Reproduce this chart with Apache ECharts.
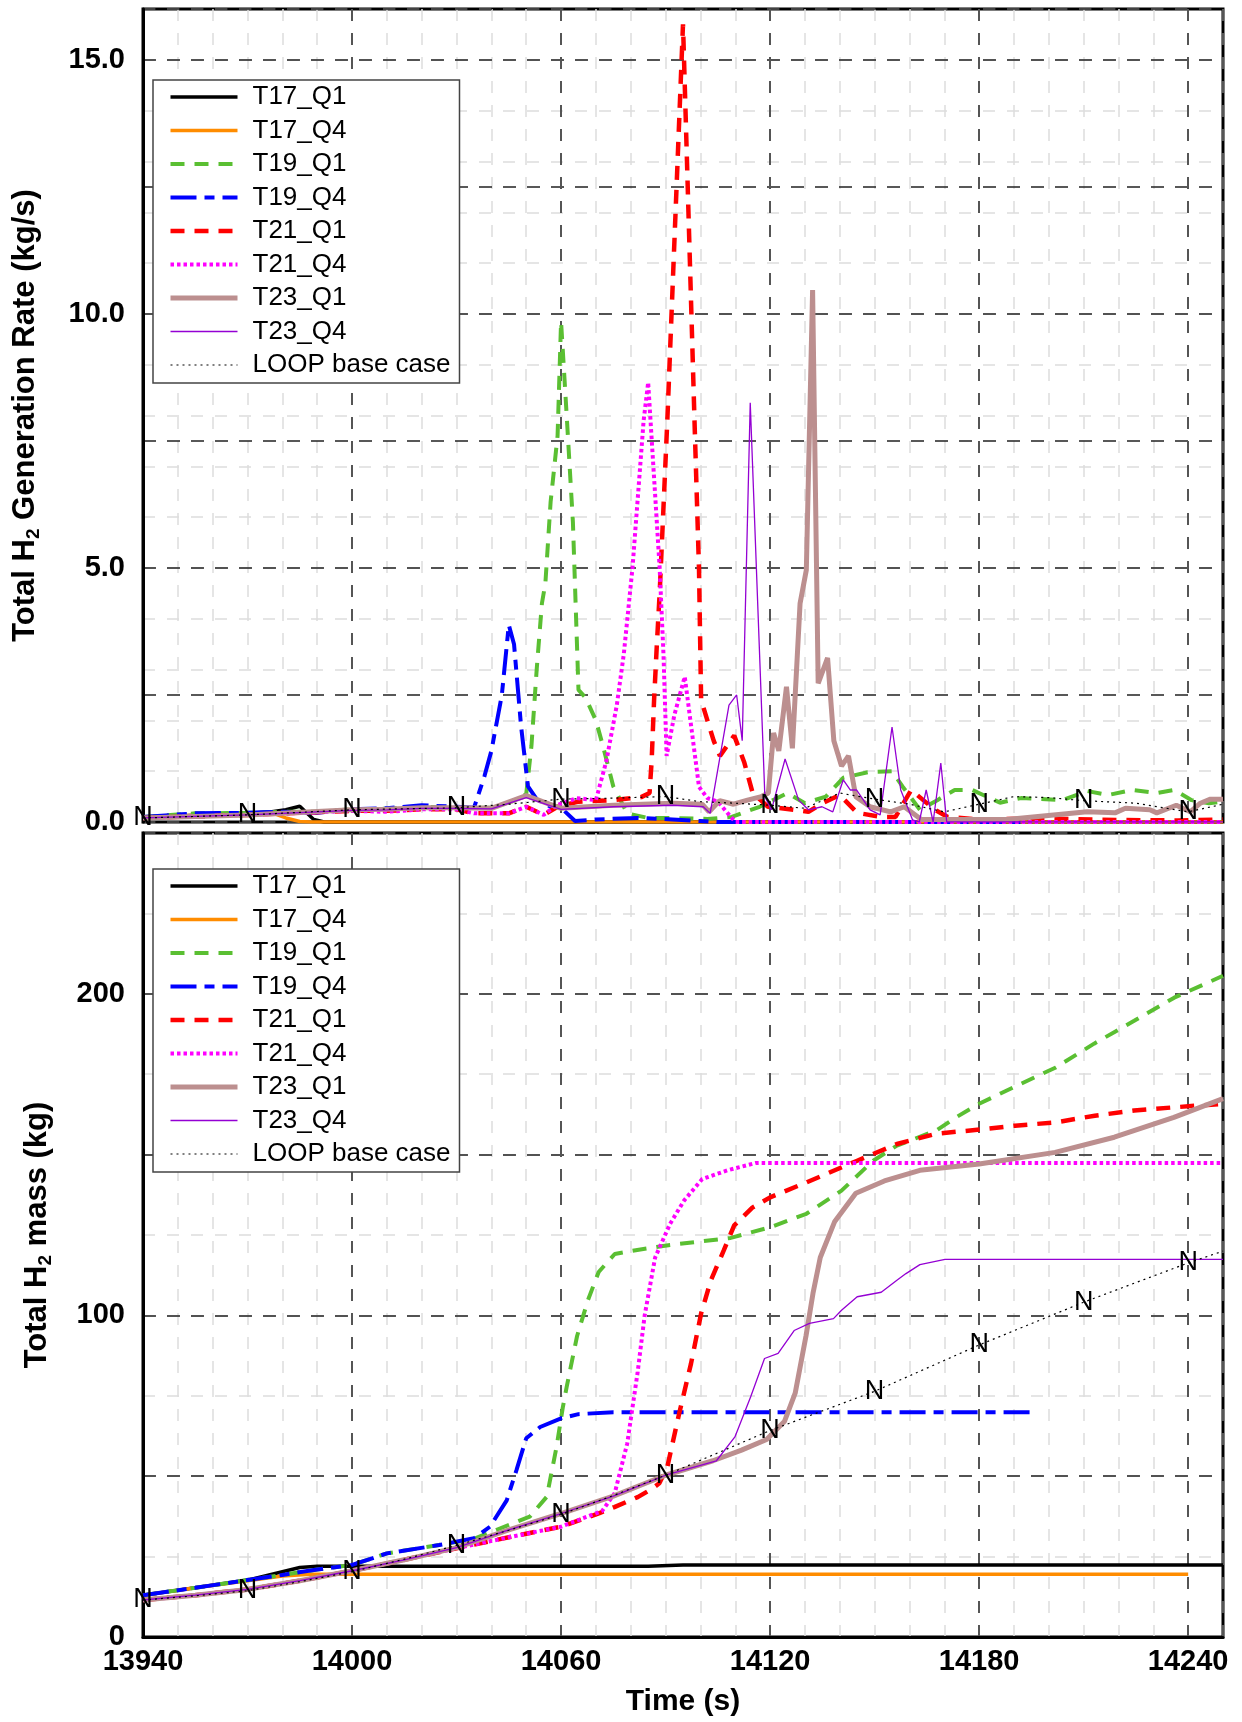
<!DOCTYPE html>
<html>
<head>
<meta charset="utf-8">
<title>Total H2 generation rate and mass</title>
<script src="https://cdn.jsdelivr.net/npm/echarts@6.0.0/dist/echarts.min.js"></script>
<style>
  html, body { margin: 0; padding: 0; background: #fff; }
  #chart { width: 1242px; height: 1722px; }
</style>
</head>
<body>
<div id="chart"></div>
<script>
// ---- data: [time (s), value] ----
const seriesNames = ['T17_Q1', 'T17_Q4', 'T19_Q1', 'T19_Q4', 'T21_Q1', 'T21_Q4', 'T23_Q1', 'T23_Q4', 'LOOP base case']
const loopMarkTimes = [13940, 13970, 14000, 14030, 14060, 14090, 14120, 14150, 14180, 14210, 14240]

// total H2 generation rate (kg/s)
const rateT17Q1 = [[13940, 0.10], [13950, 0.12], [13960, 0.15], [13970, 0.17], [13977, 0.2], [13981, 0.24], [13985, 0.31], [13989, 0.05], [13992, 0], [14250, 0]]
const rateT17Q4 = [[13940, 0.10], [13950, 0.12], [13960, 0.15], [13970, 0.17], [13977, 0.18], [13981, 0.08], [13985, 0.01], [13988, 0], [14250, 0]]
const rateT19Q1 = [[13940, 0.1], [13955, 0.17], [13970, 0.18], [13980, 0.2], [13990, 0.2], [14000, 0.25], [14010, 0.26], [14020, 0.3], [14030, 0.28], [14040, 0.28], [14047, 0.43], [14050, 0.55], [14051.5, 1.5], [14053, 3.0], [14054.5, 4.3], [14055.5, 4.7], [14057, 6.3], [14059, 7.6], [14060, 9.85], [14061.7, 7.9], [14063.4, 5.9], [14065, 2.6], [14067, 2.45], [14070, 2.0], [14072, 1.5], [14075, 0.7], [14079, 0.17], [14085, 0.08], [14092, 0.08], [14102, 0.06], [14109, 0.1], [14117, 0.3], [14125, 0.57], [14130, 0.37], [14136, 0.5], [14141, 0.87], [14148, 0.98], [14155, 1.0], [14158, 0.7], [14163, 0.24], [14168, 0.43], [14173, 0.63], [14178, 0.63], [14186, 0.38], [14192, 0.47], [14204, 0.43], [14211, 0.61], [14217, 0.53], [14224, 0.63], [14231, 0.57], [14236, 0.63], [14241, 0.43], [14246, 0.37], [14250, 0.4]]
const rateT19Q4 = [[13940, 0.1], [13955, 0.17], [13970, 0.18], [13980, 0.2], [13990, 0.18], [14000, 0.25], [14010, 0.27], [14020, 0.33], [14030, 0.3], [14035, 0.28], [14038, 0.9], [14040, 1.4], [14043, 2.5], [14045, 3.88], [14046.5, 3.5], [14048.5, 1.9], [14050.5, 0.7], [14053, 0.45], [14057, 0.3], [14060, 0.28], [14064, 0.02], [14070, 0.05], [14082, 0.08], [14092, 0.05], [14100, 0.02], [14105, 0], [14195, 0]]
const rateT21Q1 = [[13940, 0.08], [13970, 0.14], [14000, 0.22], [14010, 0.22], [14020, 0.25], [14030, 0.25], [14035, 0.17], [14045, 0.17], [14050, 0.3], [14055, 0.14], [14059, 0.3], [14065, 0.4], [14075, 0.43], [14083, 0.49], [14085.4, 0.57], [14086, 1.2], [14086.7, 2.4], [14087.5, 3.5], [14088.3, 4.5], [14090.5, 7.9], [14095, 15.7], [14098.3, 7.9], [14099.6, 4.96], [14100.2, 2.4], [14103.8, 1.6], [14105.6, 1.3], [14109.7, 1.7], [14112.6, 1.17], [14115, 0.57], [14119.4, 0.3], [14127, 0.24], [14131, 0.2], [14135, 0.37], [14140, 0.53], [14145, 0.18], [14152, 0.1], [14156, 0.1], [14160.5, 0.63], [14167.3, 0.24], [14171, 0.1], [14180, 0.05], [14198, 0.07], [14220, 0.04], [14237, 0.03], [14250, 0.05]]
const rateT21Q4 = [[13940, 0.08], [13970, 0.14], [14000, 0.22], [14010, 0.2], [14020, 0.25], [14030, 0.25], [14035, 0.17], [14045, 0.17], [14050, 0.3], [14055, 0.14], [14058.7, 0.33], [14064.5, 0.47], [14070, 0.43], [14073, 1.2], [14076, 2.3], [14078, 3.3], [14080.5, 5.0], [14083.7, 7.9], [14085, 8.65], [14088.3, 5.0], [14089.4, 3.3], [14090.3, 1.3], [14092.5, 2.1], [14095.5, 2.86], [14097.5, 1.8], [14099.6, 0.69], [14102, 0.47], [14105, 0.4], [14110, 0], [14250, 0]]
const rateT23Q1 = [[13940, 0.08], [13970, 0.14], [14000, 0.24], [14010, 0.25], [14020, 0.28], [14030, 0.28], [14040, 0.27], [14050, 0.52], [14060, 0.27], [14075, 0.33], [14092, 0.37], [14100.5, 0.35], [14102.5, 0.2], [14105.5, 0.42], [14109.5, 0.35], [14113.5, 0.43], [14117.5, 0.5], [14119.5, 0.57], [14121, 1.75], [14122.5, 1.4], [14124.7, 2.66], [14126.4, 1.45], [14128.6, 4.3], [14130.4, 4.96], [14132.2, 10.47], [14133.8, 2.73], [14136.5, 3.23], [14138.3, 1.6], [14140.5, 1.1], [14142.5, 1.3], [14144.6, 0.5], [14148.7, 0.3], [14154.6, 0.2], [14158.5, 0.3], [14163.4, 0.05], [14188, 0.05], [14211, 0.2], [14219, 0.18], [14222, 0.27], [14229, 0.24], [14231, 0.18], [14236.6, 0.33], [14240.6, 0.2], [14243.5, 0.37], [14246.4, 0.45], [14250, 0.45]]
const rateT23Q4 = [[13940, 0.08], [13970, 0.14], [14000, 0.23], [14010, 0.24], [14020, 0.27], [14030, 0.27], [14040, 0.26], [14050, 0.48], [14060, 0.25], [14075, 0.3], [14092, 0.33], [14100.8, 0.3], [14102.8, 0.17], [14108.2, 2.3], [14110.4, 2.5], [14112, 1.6], [14114.3, 8.25], [14118.5, 0.5], [14120.4, 0.24], [14124.3, 1.24], [14128.2, 0.43], [14131, 0.24], [14134.9, 0.3], [14138, 0.2], [14141, 0.83], [14143, 0.63], [14144.8, 0.63], [14148.7, 0.24], [14151.6, 0.14], [14155, 1.87], [14157.5, 0.63], [14160.9, 0.04], [14162.8, 0], [14164.8, 0.63], [14166.8, 0], [14169, 1.16], [14170.7, 0], [14250, 0]]
const rateLoop = [[13940, 0.08], [13955, 0.11], [13970, 0.14], [13985, 0.19], [14000, 0.24], [14015, 0.26], [14030, 0.28], [14045, 0.35], [14060, 0.45], [14075, 0.47], [14090, 0.5], [14100, 0.4], [14110, 0.37], [14120, 0.33], [14130, 0.27], [14140, 0.57], [14150, 0.45], [14160, 0.35], [14170, 0.2], [14180, 0.35], [14190, 0.5], [14200, 0.48], [14210, 0.42], [14225, 0.37], [14240, 0.2], [14250, 0.35]]

// total H2 mass (kg)
const massT17Q1 = [[13940, 13.0], [13955, 15.3], [13970, 17.7], [13980, 20.3], [13985, 21.6], [13990, 22.0], [14085, 22.0], [14095, 22.4], [14250, 22.4]]
const massT17Q4 = [[13940, 13.0], [13955, 15.3], [13970, 17.5], [13980, 19.0], [13988, 19.5], [14240, 19.5]]
const massT19Q1 = [[13940, 13.0], [13955, 15.3], [13970, 17.7], [13980, 19.3], [13990, 21.0], [14000, 22.4], [14010, 26.0], [14025, 28.6], [14035, 30.5], [14040, 32.7], [14051, 37.4], [14055.9, 43.6], [14058.7, 59.1], [14060.5, 71.4], [14061.6, 77.7], [14064.6, 93.6], [14067.7, 104.7], [14070.8, 113.5], [14075.4, 119.1], [14081, 120.2], [14091.3, 121.9], [14108.7, 124.1], [14120, 127.4], [14130.4, 131.6], [14140.5, 138.8], [14149.6, 148.1], [14156.4, 152.8], [14167.7, 157.5], [14173.4, 161.6], [14180, 165.8], [14190, 171], [14202, 177.1], [14213, 184.5], [14224.5, 191.6], [14236, 198.8], [14250, 205.6]]
const massT19Q4 = [[13940, 13.0], [13955, 15.3], [13970, 17.7], [13980, 19.3], [13990, 21.0], [14000, 22.4], [14010, 26.0], [14025, 28.6], [14035, 30.7], [14039.6, 34.3], [14044.4, 42.5], [14047.2, 51.9], [14050, 61.8], [14054, 65.3], [14060, 68.0], [14065, 69.3], [14075, 69.9], [14195, 69.9]]
const massT21Q1 = [[13940, 11.5], [13955, 13], [13970, 14.8], [13985, 17.5], [14000, 20.6], [14015, 24], [14030, 27.6], [14045, 31], [14060, 34.3], [14071, 38.5], [14075.3, 40.4], [14082, 43.5], [14086, 46], [14088.2, 47.8], [14090.5, 52.9], [14093.9, 69.5], [14097.3, 85], [14100.2, 100.6], [14103, 110.9], [14106.7, 120.2], [14109.7, 128], [14114.9, 133.5], [14120, 136.7], [14130.3, 141.3], [14145, 148.1], [14156.4, 153.3], [14167.7, 156.5], [14180.3, 157.8], [14190.3, 159], [14201.8, 160], [14213.2, 162.1], [14224.5, 163.7], [14235.9, 164.7], [14250, 165.8]]
const massT21Q4 = [[13940, 11.5], [13955, 13], [13970, 14.8], [13985, 17.5], [14000, 20.6], [14015, 24], [14030, 27.6], [14045, 31], [14060, 34.3], [14071.8, 39.2], [14075.4, 44.7], [14079, 60.2], [14082, 82.5], [14084, 100], [14087, 118], [14091.3, 128.5], [14095.3, 135.7], [14100.5, 142.4], [14107.7, 145.1], [14115.9, 147.4], [14250, 147.4]]
const massT23Q1 = [[13940, 11.5], [13955, 13], [13970, 14.8], [13985, 17.5], [14000, 20.6], [14015, 24], [14030, 27.8], [14045, 33.3], [14060, 38.4], [14075, 43.8], [14090, 50.3], [14103.6, 54.8], [14111.8, 58.1], [14119, 61.4], [14124.1, 67], [14127.2, 75.8], [14130.3, 93.6], [14132.3, 106.8], [14134.4, 118], [14138.5, 129.1], [14144.6, 138], [14152.8, 141.8], [14163, 145.1], [14180, 147.1], [14201.8, 150.7], [14218.8, 155.4], [14235.9, 161.6], [14250, 167.4]]
const massT23Q4 = [[13940, 11.5], [13955, 13], [13970, 14.8], [13985, 17.5], [14000, 20.6], [14015, 24], [14030, 27.8], [14045, 33.3], [14060, 38.4], [14075, 43.8], [14090, 50.3], [14104.6, 54.8], [14109.9, 62.2], [14114.4, 74.6], [14118.4, 86.6], [14122.3, 88.2], [14126.9, 95.3], [14131.3, 97.5], [14138.2, 99], [14140.5, 101.6], [14145, 105.8], [14151.9, 107.2], [14156.4, 110.9], [14159, 113], [14163, 115.8], [14170.2, 117.4], [14250, 117.4]]
const massLoop = [[13940, 11.5], [13955, 12.8], [13970, 14.4], [13985, 17.2], [14000, 20.3], [14015, 24.2], [14030, 28.5], [14045, 33.2], [14060, 38.1], [14075, 44], [14090, 50.3], [14120, 64.2], [14150, 76.4], [14180, 90.8], [14210, 104.1], [14240, 116.3], [14250, 120]]

const rateData = [rateT17Q1, rateT17Q4, rateT19Q1, rateT19Q4, rateT21Q1, rateT21Q4, rateT23Q1, rateT23Q4, rateLoop]
const massData = [massT17Q1, massT17Q4, massT19Q1, massT19Q4, massT21Q1, massT21Q4, massT23Q1, massT23Q4, massLoop]

// ---- styles ----
const FONT = 'Liberation Sans, Arial, sans-serif'
const lineStyles = [
  { color: '#000000', width: 3.5, type: 'solid' },
  { color: '#FF8C00', width: 3.5, type: 'solid' },
  { color: '#5ABF32', width: 4, type: [14, 10] },
  { color: '#0000FF', width: 4, type: [26, 8, 10, 8] },
  { color: '#FF0000', width: 4.5, type: [14, 10] },
  { color: '#FF00FF', width: 4, type: [3.5, 3] },
  { color: '#BC8F8F', width: 5, type: 'solid' },
  { color: '#9400D3', width: 1.3, type: 'solid' },
  { color: '#000000', width: 1.2, type: [2, 4] },
]

const minorSplit = { show: true, lineStyle: { color: '#dddddd', width: 1.5, type: [12, 12] } }
const majorSplitV = { show: true, lineStyle: { color: '#555555', width: 2, type: [12, 12] } }
const majorSplitH = { show: true, lineStyle: { color: '#222222', width: 1.5, type: [13, 11] } }
const hidden = { axisLine: { show: false }, axisTick: { show: false }, axisLabel: { show: false } }
const boldLabel = { show: true, color: '#000', fontSize: 29, fontWeight: 'bold', fontFamily: FONT }

const xMin = 13940
const xMax = 14250

function makeLines(dataList, g) {
  return dataList.map((data, i) => ({
    type: 'line',
    name: seriesNames[i],
    data: data,
    xAxisIndex: g * 2 + 1,
    yAxisIndex: g * 2 + 1,
    symbol: 'none',
    showSymbol: false,
    lineStyle: Object.assign({ cap: 'butt' }, lineStyles[i]),
    itemStyle: { color: lineStyles[i].color },
    z: 2,
    animation: false,
    silent: true,
  }))
}

// "N" markers sitting on the LOOP base case curve
function makeMarks(loopData, g) {
  return {
    type: 'scatter',
    name: 'marks',
    data: loopData.filter(p => loopMarkTimes.includes(p[0])),
    xAxisIndex: g * 2 + 1,
    yAxisIndex: g * 2 + 1,
    symbol: 'circle',
    symbolSize: 1,
    itemStyle: { color: 'rgba(0,0,0,0)', opacity: 1 },
    label: {
      show: true, position: 'inside', formatter: 'N', color: '#000', opacity: 1,
      fontSize: 27, fontFamily: FONT, textBorderWidth: 0, textShadowBlur: 0,
    },
    z: 3,
    animation: false,
    silent: true,
  }
}

function makeLegend(top) {
  return {
    orient: 'vertical',
    left: 153,
    top: top,
    data: seriesNames,
    itemWidth: 67,
    itemHeight: 14,
    itemGap: 5.5,
    padding: [3, 9, 4, 15],
    backgroundColor: '#fff',
    borderColor: '#444',
    borderWidth: 1.5,
    borderRadius: 0,
    selectedMode: false,
    itemStyle: { opacity: 0, borderWidth: 0 },
    lineStyle: { width: 'inherit', type: 'inherit', color: 'inherit' },
    textStyle: { fontSize: 26, color: '#000', fontFamily: FONT, lineHeight: 28, padding: [0, 0, 0, 10] },
    z: 10,
  }
}

const nameRich = {
  a: { fontSize: 31, fontWeight: 'bold', color: '#000', fontFamily: FONT, lineHeight: 36 },
  s: { fontSize: 19, fontWeight: 'bold', color: '#000', fontFamily: FONT, lineHeight: 20, verticalAlign: 'bottom' },
}

function minorX(g) {
  return Object.assign({ gridIndex: g, type: 'value', position: 'bottom', min: xMin, max: xMax, interval: 10, splitLine: minorSplit, z: 0 }, hidden)
}
function minorY(g, max, step) {
  return Object.assign({ gridIndex: g, type: 'value', position: 'left', min: 0, max: max, interval: step, splitLine: minorSplit, z: 0 }, hidden)
}

const option = {
  backgroundColor: '#fff',
  animation: false,
  textStyle: { fontFamily: FONT },
  grid: [
    { left: 143, top: 9, width: 1080, height: 813, show: true, borderColor: '#000', borderWidth: 3, backgroundColor: 'transparent', outerBoundsMode: 'none' },
    { left: 143, top: 833, width: 1080, height: 804, show: true, borderColor: '#000', borderWidth: 3, backgroundColor: 'transparent', outerBoundsMode: 'none' },
  ],
  legend: [makeLegend(80), makeLegend(869)],
  xAxis: [
    minorX(0),
    Object.assign({ gridIndex: 0, type: 'value', position: 'bottom', min: xMin, max: xMax, interval: 60, splitLine: majorSplitV, z: 1 }, hidden),
    minorX(1),
    {
      gridIndex: 1, type: 'value', position: 'bottom', min: xMin, max: xMax, interval: 60, z: 1,
      splitLine: majorSplitV,
      axisLine: { show: true, lineStyle: { color: '#000', width: 3 } },
      axisTick: { show: false },
      axisLabel: Object.assign({}, boldLabel, { margin: 10, formatter: v => ((v - xMin) % 60 === 0 ? String(v) : '') }),
      name: 'Time (s)', nameLocation: 'middle', nameGap: 50,
      nameTextStyle: { fontSize: 30, fontWeight: 'bold', color: '#000', fontFamily: FONT },
    },
  ],
  yAxis: [
    minorY(0, 16, 1),
    {
      gridIndex: 0, type: 'value', position: 'left', min: 0, max: 16, interval: 2.5, z: 1,
      splitLine: majorSplitH,
      axisLine: { show: true, lineStyle: { color: '#000', width: 3 } },
      axisTick: { show: false },
      axisLabel: Object.assign({}, boldLabel, { margin: 18, formatter: v => (v % 5 === 0 ? v.toFixed(1) : '') }),
      name: '{a|Total H}{s|2}{a| Generation Rate (kg/s)}', nameLocation: 'middle', nameGap: 100,
      nameTextStyle: { rich: nameRich },
    },
    minorY(1, 250, 25),
    {
      gridIndex: 1, type: 'value', position: 'left', min: 0, max: 250, interval: 50, z: 1,
      splitLine: majorSplitH,
      axisLine: { show: true, lineStyle: { color: '#000', width: 3 } },
      axisTick: { show: false },
      axisLabel: Object.assign({}, boldLabel, { margin: 18, formatter: v => (v % 100 === 0 ? String(v) : '') }),
      name: '{a|Total H}{s|2}{a| mass (kg)}', nameLocation: 'middle', nameGap: 88,
      nameTextStyle: { rich: nameRich },
    },
  ],
  series: [
    ...makeLines(rateData, 0),
    makeMarks(rateLoop, 0),
    ...makeLines(massData, 1),
    makeMarks(massLoop, 1),
  ],
}

const chart = echarts.init(document.getElementById('chart'), null, { renderer: 'canvas' })
chart.setOption(option)
</script>
</body>
</html>
